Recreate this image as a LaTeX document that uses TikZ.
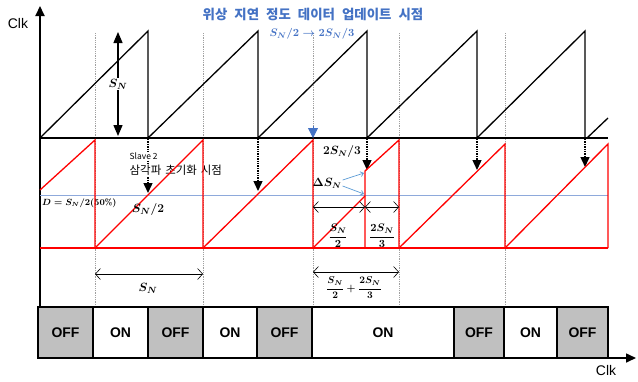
\documentclass[tikz,border=0pt]{standalone}
\usepackage{amsmath}
\usepackage{fontspec}
\newfontfamily\kr{Noto Sans CJK KR}
\newfontfamily\ar{Liberation Sans}
\usetikzlibrary{arrows.meta}
\definecolor{redc}{HTML}{FF0000}
\definecolor{bluet}{HTML}{4472C4}
\definecolor{bluel}{HTML}{8EA9DB}
\definecolor{bluea}{HTML}{5B9BD5}
\definecolor{grayf}{HTML}{C0C0C0}
\definecolor{grayd}{HTML}{A0A0A0}
\tikzset{
  blk/.style={line width=1.3bp, black, line join=miter},
  redl/.style={line width=1.3bp, redc},
  guide/.style={line width=0.8bp, grayd, densely dotted},
  dotarrow/.style={line width=1.4bp, densely dotted, -{Triangle[width=9bp,length=10bp]}},
  dimarrow/.style={line width=0.6bp, {Straight Barb[length=5bp,width=11bp]}-{Straight Barb[length=5bp,width=11bp]}},
  mathlbl/.style={font=\fontsize{12}{14}\selectfont\boldmath, inner sep=1bp},
  offbox/.style={draw, line width=1.5bp, fill=grayf, font=\ar\bfseries\fontsize{14}{16}\selectfont},
  onbox/.style={draw, line width=1.5bp, fill=white, font=\ar\bfseries\fontsize{14}{16}\selectfont},
}
\begin{document}
\begin{tikzpicture}[x=1bp,y=-1bp]
\useasboundingbox (0,0) rectangle (638,381);
% guides
\foreach \gx in {95,203,313,399,505} \draw[guide] (\gx,33) -- (\gx,307);
% top sawtooth
\draw[blk] (40,138) -- (148,31) -- (148,138) -- (258,31) -- (258,138) -- (367,31) -- (367,138) -- (477,31) -- (477,138) -- (585,31) -- (585,138);
\draw[blk] (587,138) -- (608,118);
\draw[line width=1.6bp] (40,138) -- (608,138);
% axes
\coordinate (o) at (40,358);
\coordinate (ytop) at (40,6);
\coordinate (xend) at (636,358);
\draw[line width=2bp, -{Triangle[width=9bp,length=10bp]}] (o) -- (ytop);
\node[font=\ar\fontsize{14}{16}\selectfont] (clkt) at (18,24) {Clk};
\node[font=\ar\fontsize{14}{16}\selectfont] (clkb) at (606,371) {Clk};
% S_N double arrow
\coordinate (sa) at (118,32);
\coordinate (sb) at (118,136);
\draw[line width=1.3bp, {Triangle[width=9bp,length=11bp]}-{Triangle[width=9bp,length=11bp]}] (sa) -- (sb);
\node[mathlbl, fill=white, font=\fontsize{13}{15}\selectfont\boldmath] (snl) at (118,84) {$S_N$};
% dotted arrows
\foreach \ax/\ay in {148/193, 258/191, 367/170, 477/170, 585/167}
  \draw[dotarrow] (\ax,139) -- (\ax,\ay);
% blue update arrow
\coordinate (bu1) at (313,126);
\coordinate (bu2) at (313,138);
\draw[bluet, line width=0.8bp, -{Triangle[width=10bp,length=10bp]}] (bu1) -- (bu2);
\node[text=bluet, font=\kr\bfseries\fontsize{13.5}{15}\selectfont] (title) at (313,14) {위상\hspace{7bp}지연\hspace{7bp}정도\hspace{7bp}데이터\hspace{7bp}업데이트\hspace{7bp}시점};
\node[text=bluet, mathlbl, font=\fontsize{11}{13}\selectfont\boldmath] (titlem) at (312,34) {$S_N/2\rightarrow 2S_N/3$};
% Slave 2 label
\node[anchor=west, fill=white, inner sep=0.5bp, font=\kr\fontsize{8.5}{10}\selectfont] (sl1) at (129,156) {Slave 2};
\node[anchor=west, fill=white, inner sep=0.5bp, font=\kr\fontsize{11.5}{13}\selectfont] (sl2) at (129,170) {삼각파\hspace{4bp}초기화\hspace{4bp}시점};
% D label
\node[anchor=west, inner sep=0pt, font=\fontsize{9}{10}\selectfont\boldmath] (dl) at (42,203) {$D=S_N/2(50\%)$};
% blue level line
\draw[bluel, line width=0.8bp] (40,195) -- (608,195);
% red sawtooth
\draw[redl] (40,190) -- (95,140) -- (95,248);
\draw[redl] (95,248) -- (203,140) -- (203,248);
\draw[redl] (203,248) -- (313,140) -- (313,248);
\draw[redl] (313,248) -- (365,196);
\draw[redl] (365,248) -- (365,171) -- (399,140) -- (399,248);
\draw[redl] (399,248) -- (505,144) -- (505,248);
\draw[redl] (505,248) -- (608,144) -- (608,248);
\draw[redl] (40,248) -- (608,248);
% labels in red region
\node[mathlbl, font=\fontsize{13}{15}\selectfont\boldmath] (sn2) at (148,210) {$S_N/2$};
\node[mathlbl] (tsn3) at (342,152) {$2S_N/3$};
\node[mathlbl] (dsn) at (327,183) {$\Delta S_N$};
\coordinate (j1) at (364,173);
\coordinate (j2) at (364,194);
\draw[bluea, line width=0.7bp, -{Straight Barb[length=3bp,width=5bp]}] (dsn.east) ++(0,-3) -- (j1);
\draw[bluea, line width=0.7bp, -{Straight Barb[length=3bp,width=5bp]}] (dsn.east) ++(0,3) -- (j2);
% dimension arrows
\coordinate (d1a) at (313,207); \coordinate (d1b) at (365,207); \coordinate (d1c) at (399,207);
\draw[dimarrow] (d1a) -- (d1b);
\draw[dimarrow] (d1b) -- (d1c);
\node[font=\fontsize{11}{12}\selectfont\boldmath] (f1) at (338,236) {$\dfrac{S_N}{2}$};
\node[font=\fontsize{11}{12}\selectfont\boldmath] (f2) at (382,236) {$\dfrac{2S_N}{3}$};
\coordinate (d2a) at (95,274); \coordinate (d2b) at (203,274);
\draw[dimarrow] (d2a) -- (d2b);
\node[mathlbl, font=\fontsize{13}{15}\selectfont\boldmath] (snb) at (148,288) {$S_N$};
\coordinate (d3a) at (313,272); \coordinate (d3b) at (399,272);
\draw[dimarrow] (d3a) -- (d3b);
\node[font=\fontsize{10}{11}\selectfont\boldmath] (f3) at (354,288) {$\dfrac{S_N}{2}+\dfrac{2S_N}{3}$};
% bottom boxes
\foreach \i/\xa/\xb/\t/\s in {1/38/93/OFF/offbox, 2/93/148/ON/onbox, 3/148/203/OFF/offbox, 4/203/257/ON/onbox, 5/257/312/OFF/offbox, 6/312/454/ON/onbox, 7/454/504/OFF/offbox, 8/504/557/ON/onbox, 9/557/608/OFF/offbox}
  \draw[\s] (\xa,307) rectangle node (box\i) {\t} (\xb,358);
\draw[line width=1.6bp, -{Triangle[width=9bp,length=10bp]}] (o) -- (xend);
\end{tikzpicture}
\end{document}
